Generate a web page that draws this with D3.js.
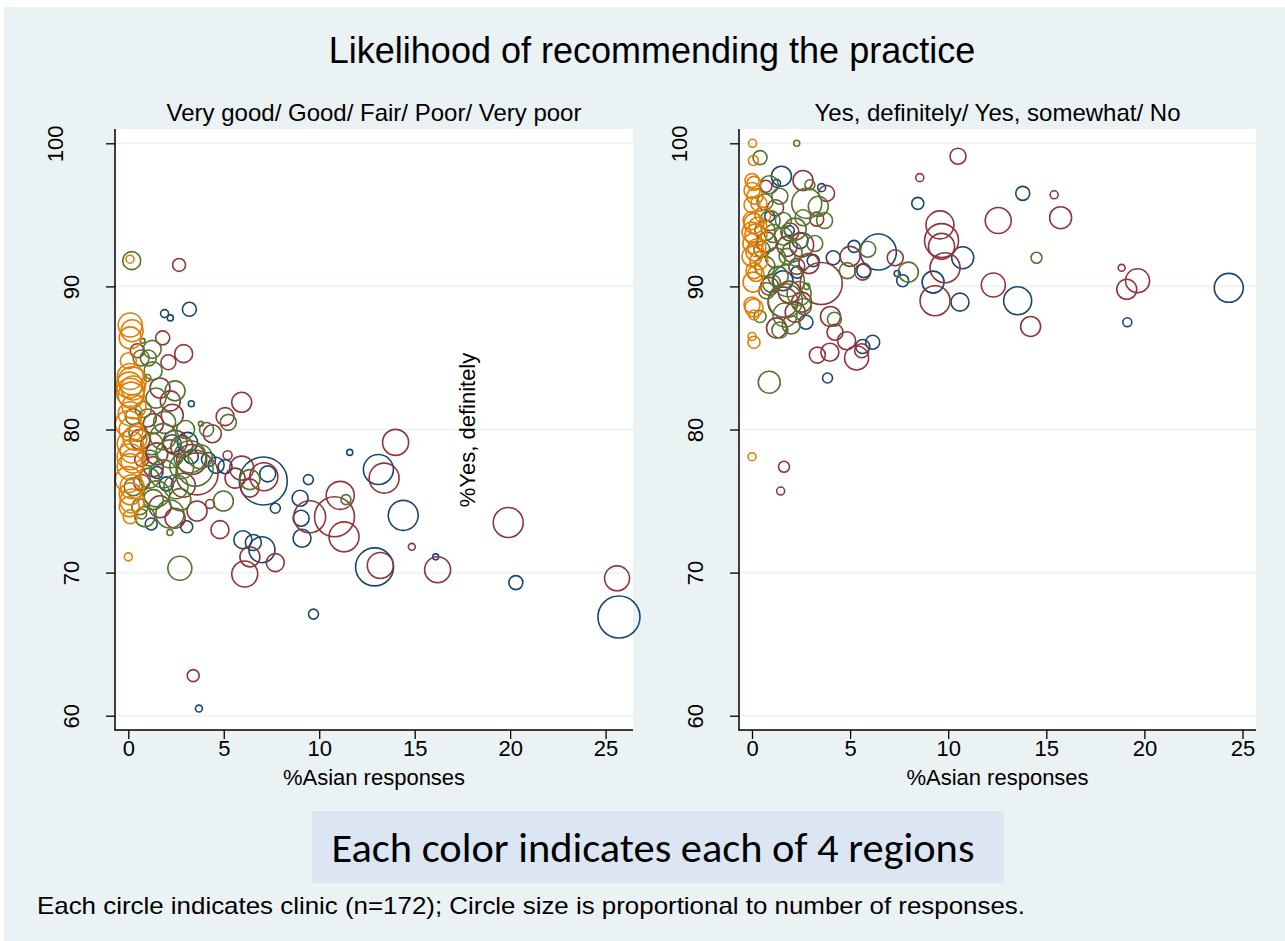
<html>
<head>
    <script src="https://cdn.jsdelivr.net/npm/d3@7"></script>
    <style>
        body {
            margin: 0;
            background: white;
        }
        svg {
            display: block;
            font-family: "Liberation Sans", Arial, Helvetica, sans-serif;
        }
    </style>
</head>
<body>
<svg id="chart"></svg>
<script>
    // each clinic: [% Asian responses, % answering top category, number of responses]
    let regions = ["Region 1", "Region 2", "Region 3", "Region 4"];
    let regionColors = ["#1a476f", "#90353b", "#55752f", "#e37e00"];
    let yTicks = [60, 70, 80, 90, 100];
    let xTicks = [0, 5, 10, 15, 20, 25];

    let leftNavy = [
        [1.9, 88.1, 16], [2.2, 87.8, 9], [3.2, 88.4, 49], [3.3, 81.8, 9], [3.1, 79.1, 100],
        [2.3, 79.0, 81], [3.3, 78.1, 49], [4.2, 77.9, 49], [4.6, 77.5, 64], [5.07, 77.4, 49],
        [7.07, 76.4, 576], [7.3, 76.9, 64], [1.5, 77.0, 36], [3.06, 73.2, 36], [6.0, 72.3, 81],
        [6.55, 72.1, 64], [7.0, 71.6, 169], [7.7, 74.5, 25], [9.43, 76.5, 25], [9.0, 75.2, 64],
        [9.05, 73.8, 64], [9.1, 72.4, 81], [9.7, 67.1, 25], [11.6, 78.4, 9], [13.1, 77.2, 225],
        [14.4, 74.0, 225], [12.9, 70.4, 361], [16.1, 71.1, 9], [20.3, 69.3, 49], [25.7, 66.9, 441],
        [3.7, 60.5, 12], [2.0, 76.2, 49], [1.2, 73.4, 36]
    ];
    let leftMaroon = [
        [2.66, 91.5, 42], [1.8, 86.4, 49], [0.47, 85.5, 49], [2.9, 85.3, 81], [2.1, 84.7, 56],
        [1.66, 82.9, 100], [2.2, 82.0, 100], [2.3, 81.0, 121], [5.94, 81.9, 100], [5.07, 80.9, 81],
        [1.31, 80.4, 100], [4.4, 79.7, 81], [2.45, 79.1, 144], [0.61, 79.3, 100], [1.49, 78.3, 121],
        [3.32, 77.9, 225], [3.6, 76.9, 441], [5.2, 78.2, 20], [5.94, 77.3, 144], [5.59, 76.6, 100],
        [6.37, 75.9, 81], [7.1, 76.7, 196], [4.8, 73.0, 81], [4.28, 74.8, 20], [2.45, 73.8, 100],
        [1.66, 74.6, 121], [2.88, 76.1, 144], [1.31, 77.4, 100], [0.7, 77.9, 49], [0.7, 76.3, 64],
        [9.5, 73.9, 256], [10.8, 73.9, 400], [11.1, 75.4, 196], [11.3, 72.5, 225], [6.37, 71.1, 100],
        [6.1, 69.9, 169], [7.7, 70.7, 81], [3.4, 62.8, 36], [14.0, 79.1, 169], [13.4, 76.6, 225],
        [13.2, 70.5, 169], [14.85, 71.8, 12], [16.2, 70.2, 169], [19.9, 73.5, 225], [25.6, 69.6, 156],
        [2.8, 78.8, 121], [1.0, 80.8, 81], [3.6, 74.3, 100]
    ];
    let leftGreen = [
        [0.18, 91.8, 81], [0.75, 86.2, 6], [1.25, 85.6, 81], [1.05, 85.0, 64], [0.67, 85.0, 64],
        [1.3, 84.1, 81], [1.0, 83.6, 12], [2.45, 82.7, 100], [1.45, 82.2, 100], [0.79, 81.4, 64],
        [0.26, 80.9, 64], [3.8, 80.4, 6], [4.1, 80.0, 49], [5.24, 80.5, 64], [1.83, 79.5, 169],
        [2.18, 78.3, 196], [1.23, 79.0, 121], [3.23, 78.1, 256], [3.76, 78.1, 144], [6.37, 76.5, 100],
        [4.98, 75.0, 100], [2.18, 74.1, 196], [0.87, 73.9, 100], [2.7, 75.1, 121], [1.31, 75.1, 100],
        [0.61, 74.6, 64], [0.26, 76.0, 81], [1.49, 75.5, 169], [1.83, 76.9, 196], [2.8, 77.4, 144],
        [1.14, 78.0, 64], [2.18, 72.8, 9], [0.7, 74.1, 25], [2.7, 70.3, 144], [11.4, 75.1, 25],
        [3.5, 77.3, 324], [1.9, 80.5, 121], [0.5, 79.8, 81], [2.5, 76.0, 144], [1.1, 76.6, 100],
        [3.0, 80.0, 81]
    ];
    let leftOrange = [
        [0.09, 91.9, 16], [0.1, 87.3, 144], [0.2, 86.9, 121], [0.1, 86.4, 121], [0.0, 84.8, 64],
        [0.1, 83.7, 169], [0.2, 83.4, 196], [0.05, 83.1, 169], [0.25, 82.9, 144], [0.1, 82.6, 196],
        [0.15, 82.4, 169], [0.1, 81.1, 144], [0.0, 80.4, 169], [0.15, 80.0, 144], [0.1, 79.0, 169],
        [0.2, 78.5, 144], [0.1, 78.1, 169], [0.25, 77.8, 144], [0.1, 77.4, 169], [0.0, 76.5, 169],
        [0.1, 75.5, 121], [0.2, 75.0, 144], [0.05, 74.6, 100], [0.1, 73.9, 49], [0.0, 71.1, 16],
        [0.3, 81.6, 144], [0.2, 76.0, 144], [0.35, 79.4, 144]
    ];

    let rightNavy = [
        [1.5, 97.7, 100], [1.25, 97.2, 16], [3.55, 96.9, 16], [2.45, 93.2, 64], [3.12, 91.8, 36],
        [1.58, 90.4, 100], [2.75, 87.5, 49], [4.14, 92.0, 49], [5.2, 92.8, 36], [6.44, 92.4, 324],
        [5.7, 91.1, 49], [7.4, 90.9, 9], [7.68, 90.4, 36], [5.64, 85.8, 49], [6.15, 86.1, 49],
        [3.85, 83.6, 25], [8.45, 95.8, 36], [10.74, 92.0, 121], [9.23, 90.3, 121], [10.6, 88.9, 81],
        [13.8, 96.5, 49], [13.54, 89.0, 196], [19.13, 87.5, 20], [24.3, 89.9, 210],
        [2.3, 91.0, 36], [1.9, 93.9, 25], [0.9, 94.9, 25]
    ];
    let rightMaroon = [
        [2.6, 97.4, 100], [0.71, 97.0, 36], [3.8, 96.5, 64], [3.3, 94.7, 49], [0.75, 93.1, 100],
        [1.93, 93.8, 81], [2.53, 92.9, 144], [1.79, 92.8, 100], [2.28, 91.4, 64], [3.53, 90.2, 441],
        [1.58, 88.9, 225], [2.53, 88.9, 100], [2.2, 88.2, 100], [1.25, 87.1, 100], [4.0, 87.9, 100],
        [4.23, 86.8, 64], [4.82, 86.2, 81], [5.59, 85.5, 49], [5.33, 85.0, 144], [3.97, 85.4, 81],
        [3.33, 85.2, 64], [5.0, 92.1, 100], [7.3, 92.0, 64], [5.64, 91.0, 64], [8.55, 97.6, 16],
        [10.5, 99.1, 64], [9.58, 94.3, 196], [9.66, 93.2, 289], [9.66, 92.8, 169], [9.84, 91.3, 225],
        [9.33, 89.0, 225], [12.55, 94.6, 169], [15.73, 94.8, 121], [15.4, 96.4, 16], [12.3, 90.1, 144],
        [14.2, 87.2, 100], [18.84, 91.3, 12], [19.65, 90.4, 144], [19.1, 89.8, 100], [1.63, 77.4, 30],
        [1.46, 75.7, 16], [1.2, 95.5, 64], [2.9, 91.6, 100], [0.9, 90.0, 81], [1.9, 89.6, 121]
    ];
    let rightGreen = [
        [2.28, 100.0, 9], [0.41, 99.0, 49], [0.88, 97.1, 81], [2.95, 97.1, 25], [1.42, 96.3, 64],
        [0.66, 95.9, 64], [2.79, 95.8, 225], [3.38, 95.6, 100], [3.7, 94.6, 64], [2.6, 94.8, 64],
        [1.6, 94.6, 64], [0.92, 94.6, 100], [0.66, 93.9, 100], [1.09, 93.7, 81], [1.6, 93.5, 81],
        [2.04, 92.4, 100], [1.79, 92.1, 64], [0.66, 91.4, 100], [1.85, 90.4, 256], [1.33, 90.7, 100],
        [2.79, 90.0, 9], [0.75, 89.7, 64], [1.7, 89.0, 289], [2.62, 88.6, 64], [1.68, 88.0, 144],
        [1.42, 86.95, 64], [0.41, 87.9, 36], [4.2, 87.7, 49], [5.9, 92.6, 64], [4.86, 91.1, 64],
        [7.97, 91.0, 100], [14.5, 92.0, 30], [0.88, 83.3, 121], [2.2, 94.0, 121], [1.2, 92.0, 100],
        [2.4, 89.5, 144], [1.0, 90.2, 81], [3.2, 93.0, 64], [0.5, 92.6, 64], [2.0, 87.3, 81]
    ];
    let rightOrange = [
        [0.03, 100.0, 16], [0.07, 98.8, 25], [0.0, 97.4, 49], [0.1, 97.2, 49], [0.0, 96.7, 64],
        [0.15, 96.3, 64], [0.0, 95.7, 64], [0.35, 95.8, 64], [0.55, 95.0, 64], [0.0, 94.6, 81],
        [0.1, 94.4, 100], [0.0, 93.8, 100], [0.2, 93.6, 121], [0.05, 93.0, 100], [0.25, 92.7, 81],
        [0.0, 92.1, 100], [0.35, 91.8, 81], [0.1, 91.1, 64], [0.2, 90.9, 64], [0.05, 90.3, 100],
        [0.0, 88.7, 64], [0.1, 88.5, 81], [0.1, 88.0, 25], [0.0, 86.5, 16], [0.1, 86.1, 36],
        [0.0, 78.1, 16], [0.3, 94.2, 81], [0.15, 92.4, 81]
    ];

    function getConfig() {
        let width = 1285;
        let height = 941;
        let container = d3.select("#chart")
            .attr("width", width)
            .attr("height", height);
        let plotTop = 129, plotBottom = 730;
        let y100 = 143.3, y60 = 715.7;
        let panels = [
            {
                subtitle: "Very good/ Good/ Fair/ Poor/ Very poor",
                left: 115, right: 633, x0: 128.3, x25: 605.6,
                series: [leftNavy, leftMaroon, leftGreen, leftOrange]
            },
            {
                subtitle: "Yes, definitely/ Yes, somewhat/ No",
                left: 739, right: 1256, x0: 752, x25: 1242.5,
                series: [rightNavy, rightMaroon, rightGreen, rightOrange]
            }
        ];
        return { width, height, container, plotTop, plotBottom, y100, y60, panels };
    }

    function drawBackground(config) {
        let { container, width, height } = config;
        container.append("rect")
            .attr("width", width).attr("height", height)
            .attr("fill", "white");
        container.append("rect")
            .attr("x", 4).attr("y", 7)
            .attr("width", width - 4).attr("height", height - 7)
            .attr("fill", "#eaf2f3");
    }

    function drawPanel(panel, config) {
        let { container, plotTop, plotBottom } = config;
        let xScale = d3.scaleLinear().domain([0, 25]).range([panel.x0, panel.x25]);
        let yScale = d3.scaleLinear().domain([60, 100]).range([config.y60, config.y100]);
        let rScale = d3.scaleSqrt().domain([0, 576]).range([0, 24]);
        let g = container.append("g");

        g.append("rect")
            .attr("x", panel.left).attr("y", plotTop)
            .attr("width", panel.right - panel.left)
            .attr("height", plotBottom - plotTop)
            .attr("fill", "white");

        // grid
        g.selectAll(".grid")
            .data(yTicks)
            .enter().append("line")
            .attr("class", "grid")
            .attr("x1", panel.left).attr("x2", panel.right)
            .attr("y1", d => yScale(d)).attr("y2", d => yScale(d))
            .attr("stroke", "#eaf2f3")
            .attr("stroke-width", 1.6);

        // bubbles
        panel.series.forEach((points, i) => {
            g.append("g")
                .attr("class", "region")
                .attr("data-region", regions[i])
                .selectAll("circle")
                .data(points)
                .enter().append("circle")
                .attr("cx", d => xScale(d[0]))
                .attr("cy", d => yScale(d[1]))
                .attr("r", d => rScale(d[2]))
                .attr("fill", "none")
                .attr("stroke", regionColors[i])
                .attr("stroke-width", 1.6);
        });

        // y axis
        let axisY = d3.axisLeft(yScale).tickValues(yTicks).tickSize(9).tickSizeOuter(0);
        let gy = g.append("g")
            .attr("transform", `translate(${panel.left},0)`)
            .call(axisY);
        gy.select(".domain").remove();
        gy.selectAll(".tick line").attr("stroke", "#000").attr("stroke-width", 1.3);
        gy.selectAll(".tick text")
            .attr("fill", "#000")
            .style("font-size", "22px")
            .attr("text-anchor", "middle")
            .attr("transform", "rotate(-90)")
            .attr("x", 0)
            .attr("dy", "0.35em")
            .attr("y", d => -44 - (String(d).length - 2) * 16);

        // x axis
        let axisX = d3.axisBottom(xScale).tickValues(xTicks).tickSize(9).tickSizeOuter(0).tickPadding(1);
        let gx = g.append("g")
            .attr("transform", `translate(0,${plotBottom})`)
            .call(axisX);
        gx.select(".domain").remove();
        gx.selectAll(".tick line").attr("stroke", "#000").attr("stroke-width", 1.3);
        gx.selectAll(".tick text")
            .attr("fill", "#000")
            .style("font-size", "22px");

        // axis lines
        g.append("line")
            .attr("x1", panel.left).attr("x2", panel.left)
            .attr("y1", plotTop).attr("y2", plotBottom + 0.7)
            .attr("stroke", "#000").attr("stroke-width", 1.5);
        g.append("line")
            .attr("x1", panel.left).attr("x2", panel.right)
            .attr("y1", plotBottom).attr("y2", plotBottom)
            .attr("stroke", "#000").attr("stroke-width", 1.5);

        let mid = (panel.left + panel.right) / 2;
        g.append("text")
            .attr("x", mid).attr("y", 121)
            .attr("text-anchor", "middle")
            .style("font-size", "24px")
            .text(panel.subtitle);
        g.append("text")
            .attr("x", mid).attr("y", 785)
            .attr("text-anchor", "middle")
            .style("font-size", "22px")
            .text("%Asian responses");
    }

    function drawLabels(config) {
        let { container } = config;
        container.append("text")
            .attr("x", 652).attr("y", 63)
            .attr("text-anchor", "middle")
            .style("font-size", "36px")
            .text("Likelihood of recommending the practice");

        container.append("text")
            .attr("transform", "translate(475,430) rotate(-90)")
            .attr("text-anchor", "middle")
            .style("font-size", "22px")
            .text("%Yes, definitely");

        container.append("rect")
            .attr("x", 312).attr("y", 811)
            .attr("width", 692).attr("height", 72)
            .attr("fill", "#dce6f2");
        container.append("text")
            .attr("x", 653).attr("y", 862)
            .attr("text-anchor", "middle")
            .attr("textLength", 643)
            .attr("lengthAdjust", "spacingAndGlyphs")
            .style("font-family", "Carlito, Lato, 'Open Sans', sans-serif")
            .style("font-size", "40px")
            .text("Each color indicates each of 4 regions");

        container.append("text")
            .attr("x", 37).attr("y", 914)
            .attr("textLength", 988)
            .attr("lengthAdjust", "spacingAndGlyphs")
            .style("font-size", "24px")
            .text("Each circle indicates clinic (n=172); Circle size is proportional to number of responses.");
    }

    let config = getConfig();
    drawBackground(config);
    config.panels.forEach(p => drawPanel(p, config));
    drawLabels(config);
</script>
</body>
</html>
